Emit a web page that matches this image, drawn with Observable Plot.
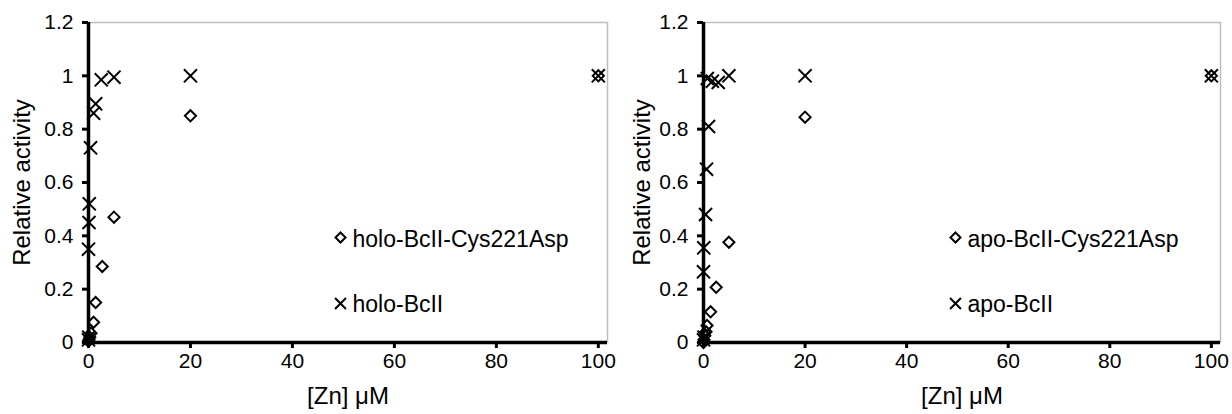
<!DOCTYPE html>
<html><head><meta charset="utf-8">
<script src="https://cdn.jsdelivr.net/npm/d3@7"></script>
<script src="https://cdn.jsdelivr.net/npm/@observablehq/plot@0.6"></script>
<style>
html,body{margin:0;padding:0;background:#fff;}
#wrap{display:flex;width:1232px;height:414px;}
svg{font-family:"Liberation Sans",Arial,sans-serif;}
</style></head><body><div id="wrap"></div>
<script>
const xTicks = [0, 20, 40, 60, 80, 100];
const yTicks = [0, 0.2, 0.4, 0.6, 0.8, 1, 1.2];
const xTitle = "[Zn] μM";
const yTitle = "Relative activity";

// Left panel: holo
const holoWtName = "holo-BcII";
const holoWtZn  = [0, 0.05, 0, 0.1, 0.15, 0.4, 1, 1.4, 2.5, 5, 20, 100];
const holoWtAct = [0.01, 0.02, 0.35, 0.45, 0.52, 0.73, 0.86, 0.895, 0.985, 0.995, 1.0, 1.0];
const holoMutName = "holo-BcII-Cys221Asp";
const holoMutZn  = [0, 0.1, 0.25, 0.5, 1, 1.4, 2.7, 5, 20, 100];
const holoMutAct = [0.005, 0.01, 0.02, 0.035, 0.076, 0.15, 0.285, 0.47, 0.85, 1.0];

// Right panel: apo
const apoWtName = "apo-BcII";
const apoWtZn  = [0, 0.1, 0, 0.05, 0.4, 0.6, 1, 0.75, 1.75, 2.9, 5, 20, 100];
const apoWtAct = [0.01, 0.02, 0.265, 0.355, 0.48, 0.65, 0.81, 0.99, 0.98, 0.975, 1.0, 1.0, 1.0];
const apoMutName = "apo-BcII-Cys221Asp";
const apoMutZn  = [0, 0.1, 0.25, 0.5, 0.7, 1.4, 2.5, 5, 20, 100];
const apoMutAct = [0.0, 0.01, 0.025, 0.04, 0.064, 0.115, 0.207, 0.376, 0.845, 1.0];

const zip = (xs, ys) => xs.map((x, i) => ({zn: x, act: ys[i]}));

function panel({wtZn, wtAct, mutZn, mutAct, wtName, mutName, marginLeft, marginRight, yTitleDx}) {
  const tickFont = 21, titleFont = 24, legendFont = 23;
  return Plot.plot({
    width: 616, height: 414,
    marginLeft, marginRight, marginTop: 22, marginBottom: 72,
    style: {fontFamily: '"Liberation Sans", Arial, sans-serif', fontSize: tickFont + "px", color: "#000", background: "white", overflow: "visible"},
    x: {domain: [0, 101.8]},
    y: {domain: [0, 1.2]},
    marks: [
      Plot.frame({stroke: "#bdbdbd", strokeWidth: 1.5}),
      Plot.axisX({ticks: xTicks, tickSize: 6, strokeWidth: 3, tickPadding: 5, fontSize: tickFont, label: null}),
      Plot.axisY({ticks: yTicks, tickSize: 6, strokeWidth: 3, tickPadding: 9, fontSize: tickFont, tickFormat: d => String(d), label: null}),
      Plot.ruleX([0], {strokeWidth: 3.5}),
      Plot.ruleY([0], {strokeWidth: 3.5}),
      Plot.dot(zip(mutZn, mutAct), {x: "zn", y: "act", symbol: "diamond2", r: 5, stroke: "#000", strokeWidth: 2}),
      Plot.dot(zip(wtZn, wtAct), {x: "zn", y: "act", symbol: "times", r: 6, stroke: "#000", strokeWidth: 2}),
      Plot.text([yTitle], {text: d => d, frameAnchor: "left", textAnchor: "middle", rotate: -90, dx: yTitleDx, fontSize: titleFont}),
      Plot.text([xTitle], {text: d => d, frameAnchor: "bottom", textAnchor: "middle", dy: 61, fontSize: titleFont}),
      // legend
      Plot.dot([mutName], {frameAnchor: "top-left", dx: 252, dy: 215, symbol: "diamond2", r: 4.5, stroke: "#000", strokeWidth: 2}),
      Plot.text([mutName], {text: d => d, frameAnchor: "top-left", dx: 264, dy: 217, textAnchor: "start", lineAnchor: "middle", fontSize: legendFont}),
      Plot.dot([wtName], {frameAnchor: "top-left", dx: 252, dy: 281, symbol: "times", r: 5, stroke: "#000", strokeWidth: 2}),
      Plot.text([wtName], {text: d => d, frameAnchor: "top-left", dx: 264, dy: 282, textAnchor: "start", lineAnchor: "middle", fontSize: legendFont})
    ]
  });
}

const wrap = document.getElementById("wrap");
wrap.append(panel({wtZn: holoWtZn, wtAct: holoWtAct, mutZn: holoMutZn, mutAct: holoMutAct, wtName: holoWtName, mutName: holoMutName, marginLeft: 88, marginRight: 9, yTitleDx: -66}));
wrap.append(panel({wtZn: apoWtZn, wtAct: apoWtAct, mutZn: apoMutZn, mutAct: apoMutAct, wtName: apoWtName, mutName: apoMutName, marginLeft: 87, marginRight: 12, yTitleDx: -61}));
</script></body></html>
